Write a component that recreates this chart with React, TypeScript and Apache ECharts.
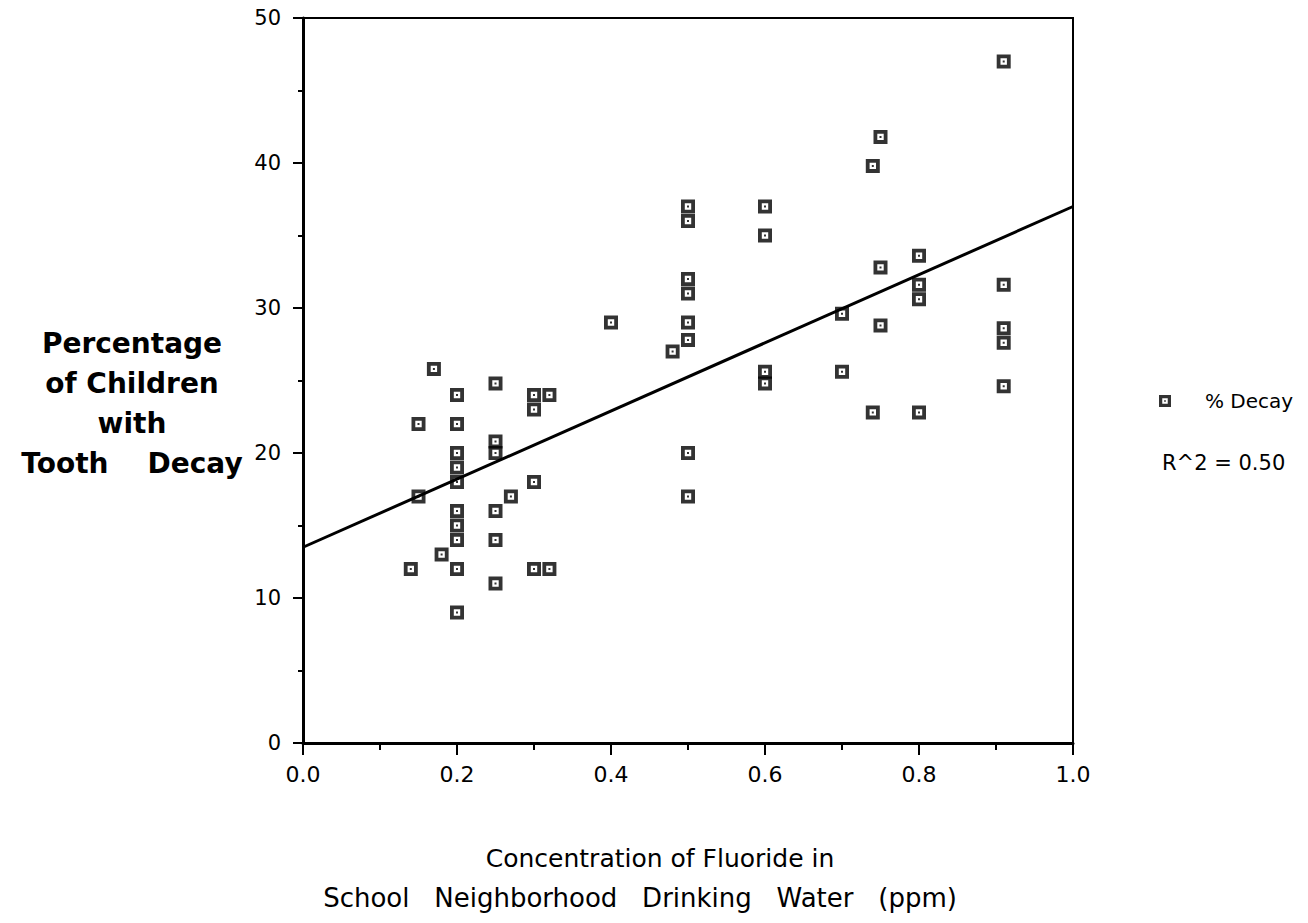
import React, { useEffect, useRef } from "react";
import * as echarts from "echarts";

// Fluoride concentration (ppm) and % of children with tooth decay
const fluoride = [
  0.14, 0.15, 0.15, 0.17, 0.18,
  0.2, 0.2, 0.2, 0.2, 0.2, 0.2, 0.2, 0.2, 0.2, 0.2,
  0.25, 0.25, 0.25, 0.25, 0.25, 0.25,
  0.27, 0.3, 0.32, 0.3, 0.3, 0.3, 0.32,
  0.4, 0.48,
  0.5, 0.5, 0.5, 0.5, 0.5, 0.5, 0.5, 0.5,
  0.6, 0.6, 0.6, 0.6,
  0.7, 0.7,
  0.74, 0.75, 0.75, 0.75, 0.74,
  0.8, 0.8, 0.8, 0.8,
  0.91, 0.91, 0.91, 0.91, 0.91,
];
const decay = [
  12, 22, 17, 25.8, 13,
  24, 22, 20, 19, 18, 16, 15, 14, 12, 9,
  24.8, 20.8, 20, 16, 14, 11,
  17, 24, 24, 23, 18, 12, 12,
  29, 27,
  37, 36, 32, 31, 29, 27.8, 20, 17,
  37, 35, 25.6, 24.8,
  29.6, 25.6,
  39.8, 41.8, 32.8, 28.8, 22.8,
  33.6, 31.6, 30.6, 22.8,
  47, 31.6, 28.6, 27.6, 24.6,
];

// Fitted regression line end points
const fitX = [0, 1];
const fitY = [13.5, 37];
const rSquaredLabel = "R^2 = 0.50";
const seriesName = "% Decay";

const xTicks = [0, 0.2, 0.4, 0.6, 0.8, 1.0];

const yTitle = "Percentage\nof Children\nwith\nTooth    Decay";
const xTitle1 = "Concentration of Fluoride in";
const xTitle2 = "School   Neighborhood   Drinking   Water   (ppm)";

const SYMBOL = "path://M0,0H14V14H0Z M3.8,3.8V10.2H10.2V3.8Z M6,6H8V8H6Z";
const FONT = "'DejaVu Sans', 'Liberation Sans', Arial, sans-serif";

export default function App() {
  const ref = useRef<HTMLDivElement>(null);
  useEffect(() => {
    if (!ref.current) return;
    const chart = echarts.init(ref.current, undefined, { renderer: "svg" });
    const points = fluoride.map((x, i) => [x, decay[i]]);
    const fit = fitX.map((x, i) => [x, fitY[i]]);
    chart.setOption({
      animation: false,
      backgroundColor: "#fff",
      grid: {
        left: 303,
        right: 235,
        top: 18,
        bottom: 180,
        show: true,
        borderColor: "#000",
        borderWidth: 2,
        backgroundColor: "transparent",
      },
      legend: {
        data: [{ name: seriesName, icon: SYMBOL }],
        left: 1159,
        top: 391,
        padding: 0,
        itemWidth: 12,
        itemHeight: 12,
        textStyle: { fontFamily: FONT, fontSize: 20, color: "#000", padding: [0, 0, 0, 29] },
      },
      xAxis: {
        type: "value",
        min: 0,
        max: 1,
        interval: 0.2,
        axisLine: { show: true, onZero: false, lineStyle: { color: "#000", width: 3 } },
        axisTick: { show: true, inside: false, length: 12, lineStyle: { color: "#000", width: 2 } },
        minorTick: { show: true, splitNumber: 2, length: 7, lineStyle: { color: "#000", width: 2 } },
        splitLine: { show: false },
        axisLabel: {
          color: "#000",
          fontFamily: FONT,
          fontSize: 22,
          margin: 20,
          formatter: (v: number) => (xTicks.some((t) => Math.abs(t - v) < 1e-9) ? v.toFixed(1) : ""),
        },
      },
      yAxis: {
        type: "value",
        min: 0,
        max: 50,
        interval: 10,
        axisLine: { show: true, onZero: false, lineStyle: { color: "#000", width: 3 } },
        axisTick: { show: true, inside: false, length: 10, lineStyle: { color: "#000", width: 2 } },
        minorTick: { show: true, splitNumber: 2, length: 5, lineStyle: { color: "#000", width: 2 } },
        splitLine: { show: false },
        axisLabel: { color: "#000", fontFamily: FONT, fontSize: 21, margin: 22 },
      },
      series: [
        {
          name: "fit",
          type: "line",
          data: fit,
          showSymbol: false,
          symbol: "none",
          lineStyle: { color: "#000", width: 3 },
          z: 2,
          silent: true,
        },
        {
          name: seriesName,
          type: "scatter",
          data: points,
          symbol: SYMBOL,
          symbolSize: 14,
          itemStyle: { color: "#000" },
          z: 3,
        },
      ],
      graphic: [
        {
          type: "text",
          x: 1162,
          y: 463,
          style: {
            text: rSquaredLabel,
            fontFamily: FONT,
            fontSize: 21,
            fill: "#000",
            verticalAlign: "middle",
          },
        },
        {
          type: "text",
          x: 132,
          y: 323,
          style: {
            text: yTitle,
            fontFamily: FONT,
            fontSize: 28,
            fontWeight: "bold",
            lineHeight: 40,
            fill: "#000",
            align: "center",
            verticalAlign: "top",
          },
        },
        {
          type: "text",
          x: 660,
          y: 858,
          style: {
            text: xTitle1,
            fontFamily: FONT,
            fontSize: 25,
            fill: "#000",
            align: "center",
            verticalAlign: "middle",
          },
        },
        {
          type: "text",
          x: 640,
          y: 898,
          style: {
            text: xTitle2,
            fontFamily: FONT,
            fontSize: 26,
            fill: "#000",
            align: "center",
            verticalAlign: "middle",
          },
        },
      ],
    });
    return () => chart.dispose();
  }, []);
  return (
    <div
      ref={ref}
      style={{ position: "absolute", left: 0, top: 0, width: 1308, height: 923 }}
    />
  );
}
